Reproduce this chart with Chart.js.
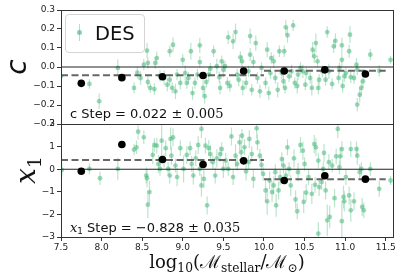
<!DOCTYPE html>
<html>
<head>
<meta charset="utf-8">
<script src="https://cdn.jsdelivr.net/npm/chart.js@4.4.1/dist/chart.umd.min.js"></script>
<style>
  body { margin: 0; background: #fff; }
  #wrap { position: relative; width: 407px; height: 279px; overflow: hidden; font-family: "DejaVu Sans", sans-serif; color: #111; }
  canvas { position: absolute; left: 0; }
  #topPanel { top: 0; }
  #botPanel { top: 114px; }
  .lbl { position: absolute; white-space: nowrap; line-height: 1; }
  .rot { transform: translate(-50%, -50%) rotate(-90deg); }
  .serif { font-family: "DejaVu Serif", serif; }
  sub { font-size: 0.68em; vertical-align: -0.32em; line-height: 0; }
  #legend { position: absolute; left: 65px; top: 14px; width: 80px; height: 39px; box-sizing: border-box;
            border: 1px solid #d4d4d4; border-radius: 4px; background: rgba(255,255,255,0.85); }
  #legend .bar { position: absolute; left: 13px; top: 9px; width: 1.3px; height: 17px; background: rgba(60,179,113,0.4); }
  #legend .dot { position: absolute; left: 11.4px; top: 15.4px; width: 4.6px; height: 4.6px; border-radius: 50%; background: rgba(60,179,113,0.6); }
  #legend .txt { position: absolute; left: 29px; top: 50%; transform: translateY(-50%); font-size: 19.5px; line-height: 1; }
</style>
</head>
<body>
<div id="wrap">
  <canvas id="topPanel" width="407" height="134"></canvas>
  <canvas id="botPanel" width="407" height="165"></canvas>

  <div id="legend"><div class="bar"></div><div class="dot"></div><div class="txt">DES</div></div>

  <div class="lbl rot" style="left:17px; top:67px; font-size:28px; font-style:italic;">c</div>
  <div class="lbl rot serif" style="left:26px; top:170px; font-size:28px;"><i>x</i><sub>1</sub></div>

  <div class="lbl" style="left:70px; top:113px; transform:translateY(-50%); font-size:13px;">c Step = 0.022 <span class="serif">± 0.005</span></div>
  <div class="lbl" style="left:70px; top:227px; transform:translateY(-50%); font-size:13px;"><i class="serif">x</i><sub>1</sub> Step = −0.828 <span class="serif">± 0.035</span></div>

  <div class="lbl serif" style="left:227px; top:262px; transform:translate(-50%,-50%); font-size:18px;">log<sub>10</sub>(ℳ<sub>stellar</sub>/ℳ<sub>⊙</sub>)</div>
</div>

<script>
// --- values ---
const xTicks = [7.5, 8.0, 8.5, 9.0, 9.5, 10.0, 10.5, 11.0, 11.5];
const cTicks = [-0.3, -0.2, -0.1, 0.0, 0.1, 0.2, 0.3];
const x1Ticks = [-3, -2, -1, 0, 1, 2];

// individual SNe, colour panel
const massC = [7.50, 7.85, 7.97, 8.20, 8.40, 8.44, 8.48, 8.52, 8.56, 8.57, 8.60, 8.65, 8.66, 8.68, 8.72, 8.77, 8.81, 8.84, 8.57,
  8.84, 8.88, 8.87, 8.91, 8.93, 8.97, 9.00, 9.03, 9.05, 9.07, 9.10, 9.12, 9.15, 9.18, 9.21, 9.21, 9.25, 9.27, 9.29, 9.32,
  9.34, 9.38, 9.42, 9.45, 9.46, 9.48, 9.50, 9.52, 9.55, 9.56, 9.58, 9.62, 9.65, 9.67, 9.69, 9.71, 9.73, 9.74, 9.78, 9.81,
  9.83, 9.85, 9.87, 9.90, 9.92, 9.95, 9.97, 10.02, 10.04, 10.06, 10.08, 10.09, 10.12, 10.14, 10.17, 10.19, 10.22, 10.24,
  10.25, 10.27, 10.29, 10.26, 10.31, 10.34, 10.36, 10.38, 10.41, 10.42, 10.45, 10.48, 10.51, 10.52, 10.57, 10.59, 10.60,
  10.62, 10.64, 10.66, 10.67, 10.68, 10.72, 10.76, 10.78, 10.80, 10.84, 10.86, 10.88, 10.92, 10.93, 10.96, 10.96, 10.97,
  10.99, 11.01, 11.05, 11.06, 11.07, 11.11, 11.14, 11.15, 11.15, 11.18, 11.20, 11.22, 11.31, 11.42, 11.56, 9.83];
const cVal = [-0.049, -0.089, -0.180, -0.005, -0.110, -0.030, -0.058, 0.012, 0.086, 0.021, -0.110, -0.116, 0.021, 0.047, -0.047, -0.058, -0.093, -0.067, -0.079,
  0.083, 0.117, -0.110, -0.128, -0.040, -0.084, 0.038, -0.032, -0.084, -0.058, 0.083, -0.137, -0.084, -0.040, 0.114, 0.026, -0.110, -0.154, -0.079, -0.040,
  -0.009, 0.083, 0.004, -0.054, -0.110, 0.030, -0.014, 0.004, -0.084, 0.156, -0.100, 0.135, 0.184, -0.040, -0.067, 0.051, 0.030, -0.110, -0.084, -0.023,
  0.065, -0.120, 0.026, 0.126, -0.058, -0.128, -0.005, -0.084, 0.091, -0.137, -0.032, 0.047, 0.030, -0.058, -0.120, 0.083, -0.032, -0.075,
  0.083, 0.209, 0.167, -0.110, -0.049, -0.023, 0.219, -0.084, -0.100, -0.040, -0.005, -0.023, -0.093, -0.032, -0.058, -0.110, 0.091,
  0.056, 0.126, 0.030, -0.110, -0.067, -0.023, -0.067, 0.184, -0.023, -0.089, 0.109, 0.138, -0.058, -0.005, 0.038, 0.114, -0.100,
  -0.049, -0.032, 0.083, 0.170, -0.054, -0.058, 0.012, -0.014, -0.198, -0.146, -0.110, -0.075, 0.065, -0.020, 0.038, 0.163];
const cErr = [0.020, 0.025, 0.040, 0.045, 0.030, 0.030, 0.035, 0.030, 0.040, 0.030, 0.025, 0.030, 0.030, 0.035, 0.030, 0.040, 0.035, 0.030, 0.030,
  0.030, 0.040, 0.030, 0.040, 0.030, 0.035, 0.030, 0.040, 0.030, 0.030, 0.045, 0.035, 0.030, 0.030, 0.040, 0.030, 0.040, 0.040, 0.030, 0.035,
  0.030, 0.030, 0.040, 0.030, 0.035, 0.030, 0.040, 0.030, 0.030, 0.035, 0.030, 0.040, 0.045, 0.030, 0.035, 0.030, 0.030, 0.040, 0.030, 0.030,
  0.035, 0.030, 0.030, 0.040, 0.030, 0.035, 0.030, 0.030, 0.040, 0.035, 0.030, 0.030, 0.035, 0.030, 0.040, 0.030, 0.030, 0.035,
  0.030, 0.040, 0.040, 0.030, 0.030, 0.035, 0.030, 0.030, 0.040, 0.030, 0.030, 0.035, 0.030, 0.030, 0.030, 0.040, 0.040,
  0.035, 0.050, 0.030, 0.035, 0.030, 0.030, 0.030, 0.030, 0.040, 0.030, 0.035, 0.040, 0.030, 0.030, 0.035, 0.040, 0.035,
  0.030, 0.030, 0.035, 0.045, 0.030, 0.030, 0.035, 0.030, 0.035, 0.040, 0.040, 0.035, 0.030, 0.030, 0.020, 0.040];

// individual SNe, stretch panel
const massX1 = [7.51, 7.85, 7.98, 8.20, 8.40, 8.43, 8.45, 8.52, 8.55, 8.56, 8.59, 8.57, 8.63, 8.65, 8.68, 8.70, 8.72, 8.74, 8.77, 8.79,
  8.82, 8.85, 8.86, 8.84, 8.88, 8.91, 8.93, 8.97, 9.01, 9.05, 9.09, 9.11, 9.13, 9.16, 9.19, 9.21, 9.23, 9.23, 9.26, 9.28,
  9.30, 9.32, 9.34, 9.37, 9.40, 9.42, 9.46, 9.48, 9.50, 9.53, 9.56, 9.60, 9.62, 9.65, 9.67, 9.70, 9.72, 9.73, 9.76, 9.78,
  9.81, 9.82, 9.85, 9.87, 9.91, 9.92, 9.95, 9.97, 9.99, 10.02, 10.04, 10.07, 10.10, 10.12, 10.14, 10.15, 10.18, 10.20, 10.22, 10.24,
  10.27, 10.29, 10.31, 10.33, 10.37, 10.39, 10.41, 10.42, 10.45, 10.48, 10.49, 10.50, 10.52, 10.55, 10.59, 10.62, 10.63, 10.64,
  10.67, 10.68, 10.71, 10.73, 10.74, 10.76, 10.78, 10.80, 10.81, 10.84, 10.87, 10.89, 10.91, 10.93, 10.94, 10.96, 10.96, 10.98,
  10.99, 11.01, 11.05, 11.07, 11.07, 11.11, 11.14, 11.15, 11.18, 11.20, 11.21, 11.23, 11.31, 11.42, 11.56, 10.67];
const x1Val = [-0.03, 0.01, -0.40, 0.01, 0.87, 0.97, 1.66, 1.41, -0.28, -0.40, -1.01, -1.57, 0.63, 1.07, 1.04, 0.23, 0.01, 1.26, 0.38, 0.93,
  0.01, 1.34, 0.60, -0.28, 1.41, 0.16, -0.35, 0.93, 0.01, 0.63, 0.93, 0.23, -0.28, 0.48, 1.07, 0.01, -0.72, 1.78, -0.43, 1.04,
  -1.60, 0.93, 0.67, 0.31, -0.28, 0.48, 0.67, 0.89, 0.01, 0.38, 0.01, 1.45, -0.35, 0.60, 0.23, 1.19, 0.75, 1.48, 0.97, -0.10,
  0.31, 1.34, 0.67, -0.43, 1.81, 1.19, 0.60, 0.19, -0.21, -0.94, -1.42, -0.50, -1.01, -0.72, -0.13, -1.60, -0.94, -0.35, 0.45, 0.16,
  -0.28, 0.97, 0.01, -0.72, 0.48, -1.34, -1.86, -0.13, 1.07, 0.82, -1.45, 0.23, -1.04, -0.35, -1.09, 1.11, -0.69, 0.97,
  0.38, -0.79, -0.57, 0.01, 0.72, -0.94, -2.26, 0.31, -2.11, 0.16, -1.28, 0.57, 1.78, 0.09, 0.57, 0.89, -2.30, -1.23,
  -1.42, -0.35, -1.16, 0.89, -1.82, -1.42, 0.89, 0.60, -0.13, 0.01, -1.67, -1.82, 0.01, -0.87, -0.50, -2.85];
const x1Err = [0.30, 0.25, 0.30, 0.50, 0.25, 0.30, 0.35, 0.30, 0.35, 0.40, 0.50, 0.60, 0.40, 0.30, 0.35, 0.40, 0.30, 0.90, 0.30, 0.35,
  0.30, 0.50, 0.40, 0.35, 0.40, 0.30, 0.40, 0.35, 0.60, 0.40, 0.30, 0.35, 0.40, 0.35, 0.40, 0.30, 0.50, 0.40, 0.40, 0.35,
  0.40, 0.35, 0.40, 0.30, 0.35, 0.40, 0.35, 0.30, 0.40, 0.35, 0.30, 0.40, 0.35, 0.50, 0.30, 0.35, 0.40, 0.30, 0.35, 0.40,
  0.30, 0.40, 0.35, 0.40, 0.45, 0.35, 0.30, 0.35, 0.30, 0.50, 0.60, 0.40, 0.45, 0.40, 0.35, 0.50, 0.40, 0.35, 0.30, 0.35,
  0.40, 0.35, 0.30, 0.45, 0.40, 0.40, 0.35, 0.40, 0.35, 0.40, 0.50, 0.30, 0.40, 0.35, 0.45, 0.40, 0.35, 0.40,
  0.35, 0.40, 0.35, 0.30, 0.40, 0.40, 0.70, 0.35, 0.50, 0.30, 0.40, 0.35, 0.40, 0.30, 0.40, 0.35, 0.90, 0.50,
  0.45, 0.35, 0.40, 0.35, 0.50, 0.40, 0.35, 0.40, 0.35, 0.30, 0.40, 0.35, 0.30, 0.35, 0.20, 0.50];

// binned means
const binMass = [7.75, 8.25, 8.75, 9.25, 9.75, 10.25, 10.75, 11.25];
const binC = [-0.086, -0.056, -0.051, -0.045, -0.021, -0.021, -0.015, -0.037];
const binX1 = [-0.09, 1.09, 0.43, 0.21, 0.37, -0.50, -0.29, -0.44];

// mass step fits (low side, high side)
const stepEdges = [7.5, 10.0, 11.5];
const stepC = [-0.044, -0.020];
const stepX1 = [0.41, -0.45];

const xMin = 7.5, xMax = 11.59;

// error bars as broken line segments: low, high, gap
function errSegments(xs, ys, es) {
  const pts = [];
  xs.forEach((x, i) => {
    pts.push({ x: x, y: ys[i] - es[i] }, { x: x, y: ys[i] + es[i] }, { x: x, y: null });
  });
  return pts;
}

const framePlugin = {
  id: 'frame',
  afterDraw(chart) {
    const { ctx, chartArea: a } = chart;
    ctx.save();
    ctx.strokeStyle = '#333';
    ctx.lineWidth = 1;
    ctx.strokeRect(a.left + 0.5, a.top + 0.5, a.right - a.left, a.bottom - a.top);
    ctx.restore();
  }
};

const tickFont = { family: 'DejaVu Sans', size: 9 };
const tickGrid = { drawOnChartArea: false, drawTicks: true, tickLength: 4, color: '#333' };

function makePanel(id, mass, val, err, bins, steps, yTicks, fmtY, showX) {
  return new Chart(document.getElementById(id), {
    type: 'scatter',
    data: {
      datasets: [
        { data: binMass.map((x, i) => ({ x: x, y: bins[i] })), backgroundColor: '#000', borderColor: '#000', pointRadius: 3.8, borderWidth: 0 },
        { data: [{ x: stepEdges[0], y: steps[0] }, { x: stepEdges[1], y: steps[0] }], showLine: true, pointRadius: 0,
          borderColor: 'rgba(85,85,85,0.9)', borderWidth: 2, borderDash: [7, 3.5] },
        { data: [{ x: stepEdges[1], y: steps[1] }, { x: stepEdges[2], y: steps[1] }], showLine: true, pointRadius: 0,
          borderColor: 'rgba(85,85,85,0.9)', borderWidth: 2, borderDash: [7, 3.5] },
        { data: [{ x: xMin, y: 0 }, { x: xMax, y: 0 }], showLine: true, pointRadius: 0, borderColor: '#222', borderWidth: 1.1 },
        { data: mass.map((x, i) => ({ x: x, y: val[i] })), backgroundColor: 'rgba(60,179,113,0.5)', borderWidth: 0, pointRadius: 2.4 },
        { data: errSegments(mass, val, err), showLine: true, spanGaps: false, pointRadius: 0,
          borderColor: 'rgba(60,179,113,0.35)', borderWidth: 1.2 }
      ]
    },
    options: {
      responsive: false,
      animation: false,
      events: [],
      layout: { padding: { top: 10, right: 14, bottom: showX ? 0 : 10, left: 0 } },
      plugins: { legend: { display: false }, tooltip: { enabled: false } },
      scales: {
        x: {
          type: 'linear', min: xMin, max: xMax, display: showX,
          afterBuildTicks: s => { s.ticks = xTicks.map(v => ({ value: v })); },
          afterFit: s => { s.height = showX ? 42 : 0; },
          grid: tickGrid, border: { display: false },
          ticks: { padding: 1, color: '#222', font: tickFont, maxRotation: 0, autoSkip: false, callback: v => v.toFixed(1) }
        },
        y: {
          type: 'linear', min: yTicks[0], max: yTicks[yTicks.length - 1],
          afterBuildTicks: s => { s.ticks = yTicks.map(v => ({ value: v })); },
          afterFit: s => { s.width = 61; },
          grid: tickGrid, border: { display: false },
          ticks: { padding: 2, color: '#222', font: tickFont, autoSkip: false, callback: fmtY }
        }
      }
    },
    plugins: [framePlugin]
  });
}

const fmtC = v => (Math.abs(v) < 1e-9 ? '0.0' : v.toFixed(1)).replace('-', '−');
const fmtX1 = v => String(Math.round(v)).replace('-', '−');

makePanel('topPanel', massC, cVal, cErr, binC, stepC, cTicks, fmtC, false);
makePanel('botPanel', massX1, x1Val, x1Err, binX1, stepX1, x1Ticks, fmtX1, true);
</script>
</body>
</html>
